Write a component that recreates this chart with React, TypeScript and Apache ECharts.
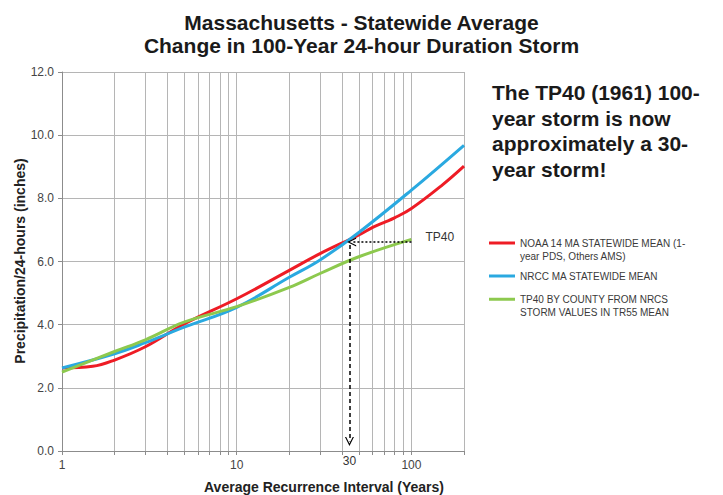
import React, { useEffect, useRef } from 'react';
import * as echarts from 'echarts';

// Recurrence intervals (years) and 24-hour precipitation (inches), per series
const noaaX = [1, 1.5, 2, 3, 5, 10, 20, 30, 50, 60, 70, 80, 100, 150, 200];
const noaaY = [2.63, 2.68, 2.88, 3.3, 4.02, 4.82, 5.72, 6.25, 6.84, 7.08, 7.24, 7.38, 7.68, 8.42, 9.02];
const nrccX = [1, 2, 3, 5, 10, 20, 30, 50, 100, 200];
const nrccY = [2.63, 3.08, 3.43, 3.92, 4.55, 5.5, 6.05, 6.92, 8.26, 9.68];
const tp40X = [1, 2, 3, 5, 10, 20, 30, 50, 100];
const tp40Y = [2.5, 3.15, 3.52, 4.08, 4.57, 5.18, 5.62, 6.15, 6.7];

const seriesNames = [
  'NOAA 14 MA STATEWIDE MEAN (1-\nyear PDS, Others AMS)',
  'NRCC MA STATEWIDE MEAN',
  'TP40 BY COUNTY FROM NRCS\nSTORM VALUES IN TR55 MEAN',
];
const seriesColors = ['#ee1c25', '#2aa9e0', '#8dc94e'];

const xTickLabels = [1, 10, 100];
const xGridValues = [1, 2, 3, 4, 5, 6, 7, 8, 9, 10, 20, 30, 40, 50, 60, 70, 80, 90, 100, 200];
const yMin = 0;
const yMax = 12;
const yInterval = 2;

// Annotation values
const tp40Level = 6.62;
const tp40From = 100;
const arrowHorizEnd = 45.5;
const arrowVertX = 44.2;
const arrowVertEnd = 0.3;
const arrowLabel = '30';
const tp40Label = 'TP40';

const titleText = 'Massachusetts - Statewide Average\nChange in 100-Year 24-hour Duration Storm';
const noteText = 'The TP40 (1961) 100-\nyear storm is now\napproximately a 30-\nyear storm!';
const xTitle = 'Average Recurrence Interval (Years)';
const yTitle = 'Precipitation/24-hours (inches)';

const FONT = "'Liberation Sans', Arial, sans-serif";
const chevron = 'path://M0,10 L5,0 L10,10 L8.6,10 L5,2.8 L1.4,10 Z';

export default function App() {
  const ref = useRef<HTMLDivElement>(null);
  useEffect(() => {
    if (!ref.current) return;
    const chart = echarts.init(ref.current, null, { renderer: 'svg' });
    const toPairs = (xs: number[], ys: number[]) => xs.map((x, i) => [x, ys[i]]);
    const seriesData = [toPairs(noaaX, noaaY), toPairs(nrccX, nrccY), toPairs(tp40X, tp40Y)];

    const legendTops = [222.75, 269.25, 279];
    const option: any = {
      animation: false,
      backgroundColor: '#ffffff',
      title: {
        text: titleText,
        left: 'center',
        top: 11,
        padding: 0,
        textStyle: { fontSize: 21, fontWeight: 'bold', lineHeight: 23, color: '#1a1a1a', fontFamily: FONT },
      },
      legend: seriesNames.map((name, i) => ({
        data: [{ name, icon: 'rect' }],
        orient: 'vertical',
        left: 489,
        top: legendTops[i],
        padding: 0,
        itemWidth: 26,
        itemHeight: 3,
        selectedMode: false,
        // a leading blank line keeps the icon level with the first text line
        formatter: (n: string) => (n.includes('\n') ? ' \n' + n : n),
        textStyle: {
          fontSize: 10,
          lineHeight: 13.5,
          color: '#3a3a3a',
          fontFamily: FONT,
        },
      })),
      grid: { left: 62, top: 72, right: 259, bottom: 44, containLabel: false, outerBoundsMode: 'none' },
      xAxis: {
        type: 'log',
        logBase: 10,
        min: 1,
        max: 200,
        axisLine: { show: true, lineStyle: { color: '#8c8c8c', width: 1 } },
        axisTick: { show: true, length: 4, customValues: xGridValues, lineStyle: { color: '#8c8c8c' } },
        axisLabel: {
          customValues: xTickLabels,
          formatter: (v: number) => (xTickLabels.some((t) => Math.abs(t - v) < 1e-6) ? String(Math.round(v)) : ''),
          fontSize: 12,
          color: '#444',
          margin: 8,
          fontFamily: FONT,
        },
        splitLine: { show: false },
      },
      yAxis: {
        type: 'value',
        min: yMin,
        max: yMax,
        interval: yInterval,
        axisLine: { show: true, lineStyle: { color: '#8c8c8c', width: 1 } },
        axisTick: { show: true, length: 4, lineStyle: { color: '#8c8c8c' } },
        axisLabel: {
          formatter: (v: number) => v.toFixed(1),
          fontSize: 12,
          color: '#444',
          margin: 8,
          fontFamily: FONT,
        },
        splitLine: { show: true, lineStyle: { color: '#b5b5b5', width: 1 } },
      },
      series: [
        {
          name: '__grid',
          type: 'line',
          data: [],
          silent: true,
          markLine: {
            silent: true,
            z: 1,
            symbol: 'none',
            label: { show: false },
            lineStyle: { color: '#b5b5b5', width: 1, type: 'solid' },
            emphasis: { disabled: true },
            data: xGridValues.filter((v) => v !== 1).map((v) => ({ xAxis: v })),
          },
        },
        ...seriesData.map((d, i) => ({
          name: seriesNames[i],
          type: 'line',
          smooth: 0.4,
          showSymbol: false,
          symbol: 'none',
          color: seriesColors[i],
          lineStyle: { width: 3, color: seriesColors[i] },
          data: d,
          z: 3,
        })),
        {
          name: '__annot',
          type: 'line',
          data: [],
          silent: true,
          markLine: {
            silent: true,
            z: 6,
            emphasis: { disabled: true },
            lineStyle: { color: '#000', width: 1.5 },
            data: [
              [
                {
                  coord: [tp40From, tp40Level],
                  symbol: 'none',
                  lineStyle: { type: [2, 2], color: '#000', width: 1.5 },
                  label: {
                    show: true,
                    position: 'start',
                    formatter: tp40Label + '\n ',
                    lineHeight: 9,
                    distance: 14,
                    fontSize: 12,
                    color: '#333',
                    fontFamily: FONT,
                  },
                },
                { coord: [arrowHorizEnd, tp40Level], symbol: chevron, symbolSize: [9, 9] },
              ],
              [
                {
                  coord: [arrowVertX, tp40Level - 0.1],
                  symbol: 'none',
                  lineStyle: { type: [4, 3], color: '#000', width: 1.5 },
                  label: {
                    show: true,
                    position: 'end',
                    formatter: arrowLabel,
                    distance: 13,
                    fontSize: 12,
                    color: '#333',
                    fontFamily: FONT,
                  },
                },
                { coord: [arrowVertX, arrowVertEnd], symbol: chevron, symbolSize: [9, 9] },
              ],
            ],
          },
        },
      ],
      graphic: [
        {
          type: 'text',
          left: 492,
          top: 80,
          style: {
            text: noteText,
            fontSize: 21,
            fontWeight: 'bold',
            lineHeight: 25.5,
            fill: '#1a1a1a',
            fontFamily: FONT,
          },
        },
        {
          type: 'text',
          x: 324,
          y: 487,
          style: {
            text: xTitle,
            fontSize: 14,
            fontWeight: 'bold',
            fill: '#222',
            fontFamily: FONT,
            align: 'center',
            verticalAlign: 'middle',
          },
        },
        {
          type: 'text',
          x: 20,
          y: 261,
          rotation: Math.PI / 2,
          style: {
            text: yTitle,
            fontSize: 14,
            fontWeight: 'bold',
            fill: '#222',
            fontFamily: FONT,
            align: 'center',
            verticalAlign: 'middle',
          },
        },
      ],
    };
    chart.setOption(option);
    return () => chart.dispose();
  }, []);
  return (
    <div
      ref={ref}
      style={{ position: 'absolute', left: 0, top: 0, width: 723, height: 495, background: '#fff' }}
    />
  );
}
